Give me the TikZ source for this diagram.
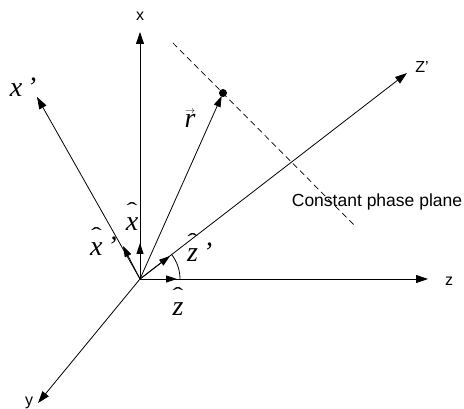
\documentclass[tikz,border=0pt]{standalone}
\usepackage{fontspec}
\setmainfont{Liberation Serif}
\setsansfont{Liberation Sans}
\usetikzlibrary{arrows.meta}
\newcommand{\hatglyph}{\raisebox{14pt}{\scalebox{1.6}[1]{\fontsize{20}{20}\selectfont ˆ}}}
\newcommand{\hatted}[1]{\ooalign{\textit{#1}\cr\hidewidth\hatglyph\hidewidth\cr}}

\begin{document}
\begin{tikzpicture}[x=1pt,y=1pt]
\tikzset{
  axisline/.style={draw=black,line width=0.8pt,-{Triangle[length=12pt,width=8pt]}},
  unitvec/.style={draw=black,line width=0.8pt,-{Triangle[length=11pt,width=7pt]}},
  axislabel/.style={font=\sffamily\fontsize{16}{18}\selectfont,inner sep=0pt},
  veclabel/.style={font=\fontsize{28}{30}\selectfont,inner sep=0pt},
  planeline/.style={draw=black,line width=0.7pt,dash pattern=on 6pt off 4pt}
}
\useasboundingbox (0,0) rectangle (464,409);
% origin and free ends of the axes
\coordinate (n_o) at (140,130);
\coordinate (n_x_end) at (140,377);
\coordinate (n_z_end) at (428,130);
\coordinate (n_zp_end) at (407,336);
\coordinate (n_xp_end) at (37,312);
\coordinate (n_y_end) at (38,6);
% unit vectors
\coordinate (n_xhat_end) at (140,166);
\coordinate (n_xphat_end) at (123,163);
\coordinate (n_zphat_end) at (170,153);
\coordinate (n_zhat_end) at (177,130);
% constant phase plane
\coordinate (n_pl_a) at (173,366);
\coordinate (n_pl_b) at (355,183);
\node[circle,fill=black,inner sep=0pt,minimum size=8pt] (n_dot) at (223,316) {};
% labels
\node[axislabel] (n_x) at (140,393) {x};
\node[axislabel] (n_z) at (449,128) {z};
\node[axislabel] (n_zp) at (422,342) {Z'};
\node[axislabel,anchor=base] (n_y) at (29,3) {y};
\node[veclabel] (n_xp) at (23,322) {\textit{x\,'}};
\node[veclabel,align=center] (n_r) at (190,290) {\shortstack{\fontsize{10}{10}\selectfont$\rightarrow$\\[-2pt]\textit{r}}};
\node[veclabel,anchor=base] (n_xhat) at (132,178) {\hatted{x}};
\node[veclabel,anchor=base west] (n_xphat) at (90,153) {\hatted{x}\,\textit{'}};
\node[veclabel,anchor=base west] (n_zphat) at (187,147) {\hatted{z}\,\textit{'}};
\node[veclabel,anchor=base] (n_zhat) at (178,93) {\hatted{z}};
\node[font=\sffamily\fontsize{17.5}{20}\selectfont,inner sep=0pt] (n_plane) at (377,207) {Constant phase plane};
% drawing
\draw[planeline] (n_pl_a) -- (n_pl_b);
\draw[axisline] (n_o) -- (n_x_end);
\draw[axisline] (n_o) -- (n_z_end);
\draw[axisline] (n_o) -- (n_zp_end);
\draw[axisline] (n_o) -- (n_xp_end);
\draw[axisline] (n_o) -- (n_y_end);
\draw[unitvec,shorten >=-1pt] (n_o) -- (n_dot);
\draw[unitvec] (n_o) -- (n_xhat_end);
\draw[unitvec] (n_o) -- (n_xphat_end);
\draw[unitvec] (n_o) -- (n_zphat_end);
\draw[unitvec] (n_o) -- (n_zhat_end);
\draw[line width=0.8pt] (180,130) arc[start angle=0,end angle=37.6,radius=40];
\end{tikzpicture}
\end{document}
